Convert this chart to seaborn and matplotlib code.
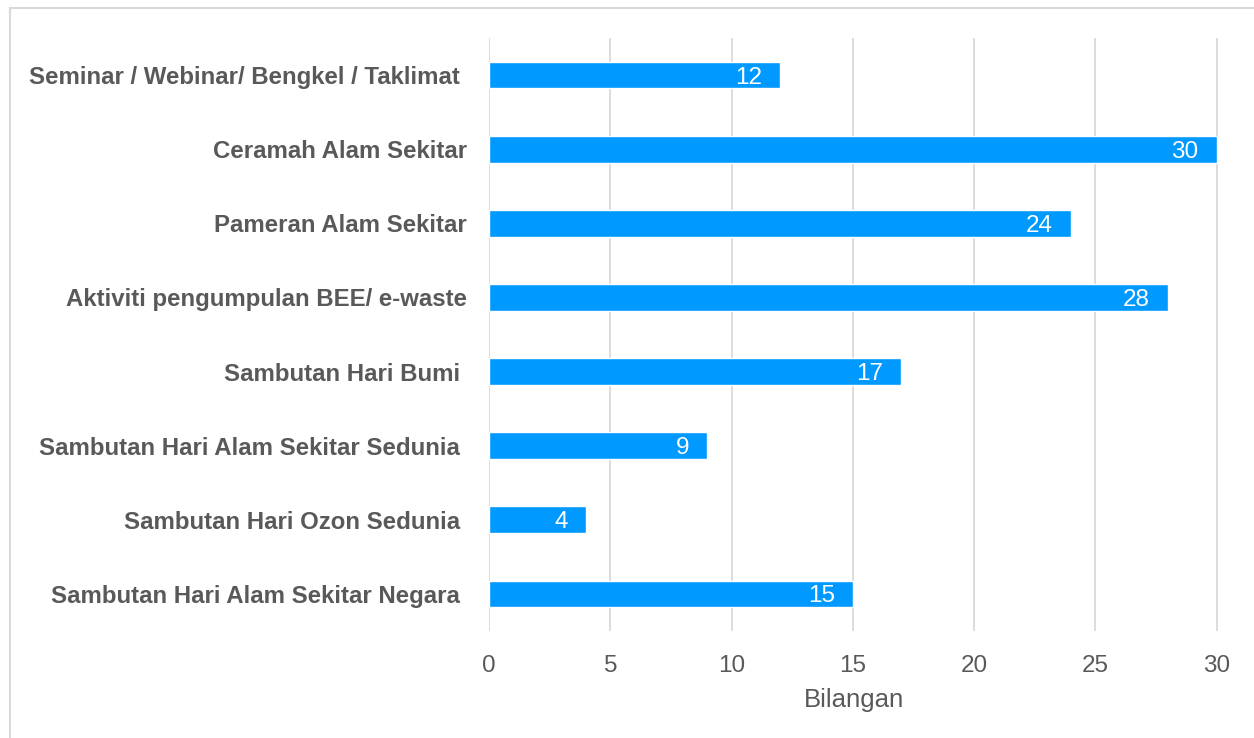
import matplotlib
matplotlib.use("Agg")
import matplotlib.pyplot as plt
import seaborn as sns
import pandas as pd
from matplotlib.patches import Rectangle

# Data
categories = [
    "Seminar / Webinar/ Bengkel / Taklimat ",
    "Ceramah Alam Sekitar",
    "Pameran Alam Sekitar",
    "Aktiviti pengumpulan BEE/ e-waste",
    "Sambutan Hari Bumi ",
    "Sambutan Hari Alam Sekitar Sedunia ",
    "Sambutan Hari Ozon Sedunia ",
    "Sambutan Hari Alam Sekitar Negara ",
]
values = [12, 30, 24, 28, 17, 9, 4, 15]
x_ticks = [0, 5, 10, 15, 20, 25, 30]

df = pd.DataFrame({"Aktiviti": categories, "Bilangan": values})

sns.set_style("white")
plt.rcParams["font.family"] = ["Liberation Sans", "DejaVu Sans"]

gray = "#595959"
fig = plt.figure(figsize=(12.54, 7.38), dpi=100)
ax = fig.add_axes([0.39, 0.145, 0.5821, 0.8035])

sns.barplot(data=df, x="Bilangan", y="Aktiviti", color="#0099FF",
            saturation=1, width=0.36, ax=ax, zorder=3)

# Value labels inside bar ends
for i, v in enumerate(values):
    ax.text(v - 0.75, i, str(v), color="white", fontsize=17.5,
            ha="right", va="center_baseline", zorder=4)

ax.set_xlim(0, 30.1)
ax.set_xticks(x_ticks)
ax.grid(axis="x", color="#d9d9d9", linewidth=1.3, zorder=0)
ax.grid(axis="y", visible=False)
for s in ax.spines.values():
    s.set_visible(False)

ax.tick_params(axis="x", length=0, pad=17, labelsize=17.5, labelcolor=gray)
ax.tick_params(axis="y", length=0, pad=16, labelsize=17.3, labelcolor=gray)
for lbl in ax.get_yticklabels():
    lbl.set_fontweight("bold")

ax.set_xlabel("Bilangan", fontsize=18.5, color=gray, labelpad=8)
ax.set_ylabel("")

# Outer chart border
fig.patches.append(Rectangle((10 / 1254, -0.1), 1.2, (738 - 8) / 738 + 0.1,
                             transform=fig.transFigure, fill=False,
                             edgecolor="#d9d9d9", linewidth=1.5))

fig.savefig("out.png", dpi=100)
